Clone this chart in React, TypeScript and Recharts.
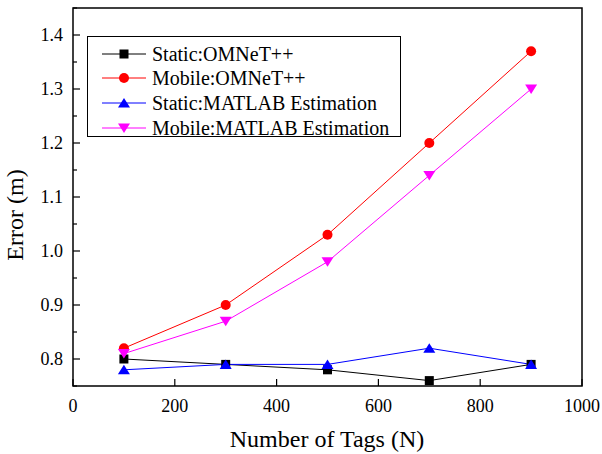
import React from 'react';
import {
  LineChart,
  Line,
  XAxis,
  YAxis,
  ReferenceArea,
} from 'recharts';

const tagCounts = [100, 300, 500, 700, 900];
const staticOmnet = [0.8, 0.79, 0.78, 0.76, 0.79];
const mobileOmnet = [0.82, 0.9, 1.03, 1.2, 1.37];
const staticMatlab = [0.78, 0.79, 0.79, 0.82, 0.79];
const mobileMatlab = [0.81, 0.87, 0.98, 1.14, 1.3];

const xTicks = [0, 200, 400, 600, 800, 1000];
const yTicks = [0.75, 0.8, 0.85, 0.9, 0.95, 1.0, 1.05, 1.1, 1.15, 1.2, 1.25, 1.3, 1.35, 1.4, 1.45];

type Shape = 'square' | 'circle' | 'triangleUp' | 'triangleDown';

const series: { key: string; name: string; color: string; shape: Shape; values: number[] }[] = [
  { key: 'staticOmnet', name: 'Static:OMNeT++', color: '#000000', shape: 'square', values: staticOmnet },
  { key: 'mobileOmnet', name: 'Mobile:OMNeT++', color: '#ff0000', shape: 'circle', values: mobileOmnet },
  { key: 'staticMatlab', name: 'Static:MATLAB Estimation', color: '#0000ff', shape: 'triangleUp', values: staticMatlab },
  { key: 'mobileMatlab', name: 'Mobile:MATLAB Estimation', color: '#ff00ff', shape: 'triangleDown', values: mobileMatlab },
];

const data = tagCounts.map((n, i) => {
  const row: Record<string, number> = { n };
  series.forEach((s) => {
    row[s.key] = s.values[i];
  });
  return row;
});

const FONT = '"Times New Roman", "Liberation Serif", serif';
const textStyle = { fontFamily: FONT };

function Marker({ shape, cx, cy, color }: { shape: Shape; cx: number; cy: number; color: string }) {
  if (shape === 'square') {
    return <rect x={cx - 4.5} y={cy - 4.5} width={9} height={9} fill={color} />;
  }
  if (shape === 'circle') {
    return <circle cx={cx} cy={cy} r={5} fill={color} />;
  }
  if (shape === 'triangleUp') {
    return <polygon points={`${cx},${cy - 5} ${cx - 6},${cy + 4.5} ${cx + 6},${cy + 4.5}`} fill={color} />;
  }
  return <polygon points={`${cx},${cy + 5} ${cx - 6},${cy - 4.5} ${cx + 6},${cy - 4.5}`} fill={color} />;
}

// y ticks point inward; only the 0.1 steps get a label
const YTick = (props: any) => {
  const { x, y, payload } = props;
  const v = payload.value;
  const major = Math.abs(v * 10 - Math.round(v * 10)) < 1e-6;
  const axisX = x + 10;
  return (
    <g>
      <line x1={axisX} y1={y} x2={axisX + (major ? 7 : 4)} y2={y} stroke="#000" strokeWidth={1.2} />
      {major && v > 0.76 && v < 1.44 && (
        <text x={x} y={y} dy="0.35em" textAnchor="end" fontSize={18} style={textStyle} fill="#000">
          {v.toFixed(1)}
        </text>
      )}
    </g>
  );
};

const XTick = (props: any) => {
  const { x, y, payload } = props;
  const axisY = y - 13;
  return (
    <g>
      <line x1={x} y1={axisY} x2={x} y2={axisY - 7} stroke="#000" strokeWidth={1.2} />
      <text x={x} y={y} dy="0.71em" textAnchor="middle" fontSize={18} style={textStyle} fill="#000">
        {payload.value}
      </text>
    </g>
  );
};

export default function App() {
  return (
    <div style={{ position: 'absolute', left: 0, top: 0, width: 602, height: 454, background: '#fff' }}>
      <LineChart width={602} height={454} data={data} margin={{ top: 8, right: 20, bottom: 0, left: 0 }}>
        <XAxis
          dataKey="n"
          type="number"
          domain={[0, 1000]}
          ticks={xTicks}
          axisLine={false}
          tickLine={false}
          tickSize={0}
          tickMargin={13}
          height={68}
          tick={XTick}
          interval={0}
        />
        <YAxis
          type="number"
          domain={[0.75, 1.45]}
          ticks={yTicks}
          axisLine={false}
          tickLine={false}
          tickSize={0}
          tickMargin={10}
          width={73}
          tick={YTick}
          interval={0}
          allowDataOverflow
        />
        <ReferenceArea x1={0} x2={1000} y1={0.75} y2={1.45} fill="none" fillOpacity={0} stroke="#000" strokeWidth={1.5} />
        {series.map((s) => (
          <Line
            key={s.key}
            dataKey={s.key}
            name={s.name}
            type="linear"
            stroke={s.color}
            strokeWidth={1}
            isAnimationActive={false}
            dot={(p: any) => <Marker key={`${s.key}-${p.index}`} shape={s.shape} cx={p.cx} cy={p.cy} color={s.color} />}
            activeDot={false}
          />
        ))}
      </LineChart>

      {/* legend box */}
      <div
        style={{
          position: 'absolute',
          left: 87,
          top: 36,
          width: 312,
          height: 99,
          border: '1px solid #000',
          background: '#fff',
        }}
      >
        {series.map((s, i) => (
          <div
            key={s.key}
            style={{
              position: 'absolute',
              left: 0,
              top: 4 + i * 24.7,
              height: 25,
              display: 'flex',
              alignItems: 'center',
              whiteSpace: 'nowrap',
            }}
          >
            <svg width={44} height={20} style={{ marginLeft: 14 }}>
              <line x1={0} y1={10} x2={44} y2={10} stroke={s.color} strokeWidth={1} />
              <Marker shape={s.shape} cx={22} cy={10} color={s.color} />
            </svg>
            <span style={{ marginLeft: 6, fontSize: 20, lineHeight: 1, color: '#000', fontFamily: FONT }}>{s.name}</span>
          </div>
        ))}
      </div>

      {/* axis titles */}
      <div
        style={{
          position: 'absolute',
          left: 327,
          top: 439,
          transform: 'translate(-50%, -50%)',
          fontSize: 24,
          lineHeight: 1,
          whiteSpace: 'nowrap',
          fontFamily: FONT,
        }}
      >
        Number of Tags (N)
      </div>
      <div
        style={{
          position: 'absolute',
          left: 15,
          top: 215,
          transform: 'translate(-50%, -50%) rotate(-90deg)',
          fontSize: 24,
          lineHeight: 1,
          whiteSpace: 'nowrap',
          fontFamily: FONT,
        }}
      >
        Error (m)
      </div>
    </div>
  );
}
